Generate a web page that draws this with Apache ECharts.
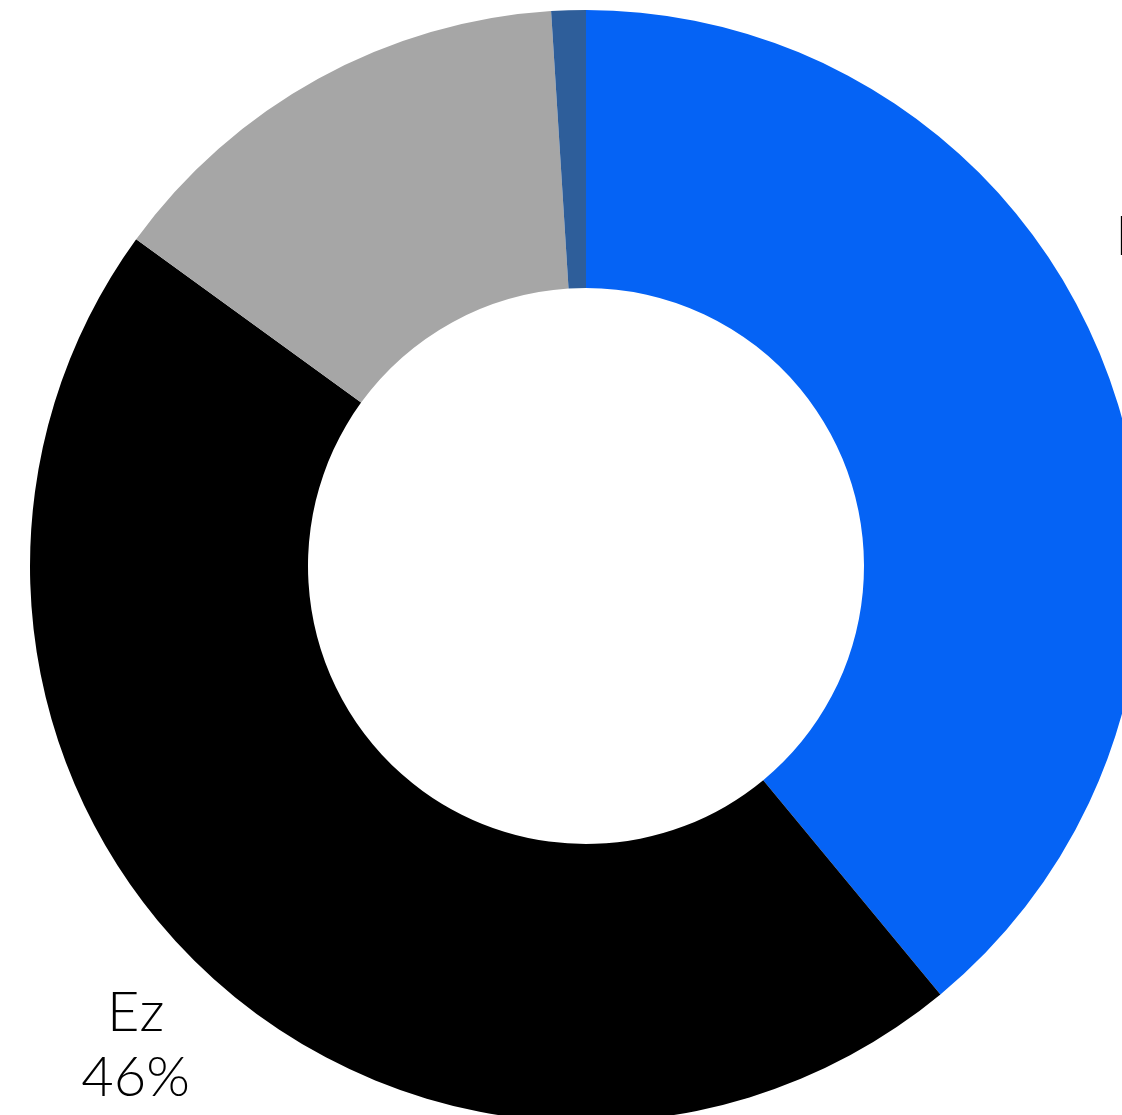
<!DOCTYPE html>
<html>
<head>
<meta charset="utf-8">
<script src="https://cdn.jsdelivr.net/npm/echarts@6/dist/echarts.min.js"></script>
<style>
  html, body { margin: 0; padding: 0; background: #fff; }
  #chart { width: 1122px; height: 1115px; }
</style>
</head>
<body>
<div id="chart"></div>
<script>
// slices clockwise from 12 o'clock
const names = ['Ex+Ey', 'Ez', 'Ey', 'Et']
const values = [39, 46, 14, 1]
const colors = ['#0563F5', '#000000', '#A6A6A6', '#2E5E9A']

const chart = echarts.init(document.getElementById('chart'))

const option = {
  animation: false,
  series: [
    {
      // the donut itself
      type: 'pie',
      center: [586, 566],
      radius: [278, 556],
      startAngle: 90,
      silent: true,
      label: { show: false },
      labelLine: { show: false },
      data: names.map((n, i) => ({
        name: n,
        value: values[i],
        itemStyle: { color: colors[i] }
      }))
    },
    {
      // invisible ring, only used to place labels outside the donut
      type: 'pie',
      center: [586, 566],
      radius: [600, 710],
      startAngle: 90,
      silent: true,
      itemStyle: { color: 'rgba(0,0,0,0)' },
      labelLine: { show: false },
      label: {
        position: 'inside',
        formatter: '{b}\n{d}%',
        fontFamily: 'Lato',
        fontWeight: 300,
        fontSize: 56,
        lineHeight: 65,
        color: '#000',
        align: 'center'
      },
      data: names.map((n, i) => ({
        name: n,
        value: values[i],
        label: {
          show: values[i] >= 20,
          offset: i === 0 ? [-15, -74] : [0, 0]
        }
      }))
    }
  ]
}
chart.setOption(option)
</script>
</body>
</html>
